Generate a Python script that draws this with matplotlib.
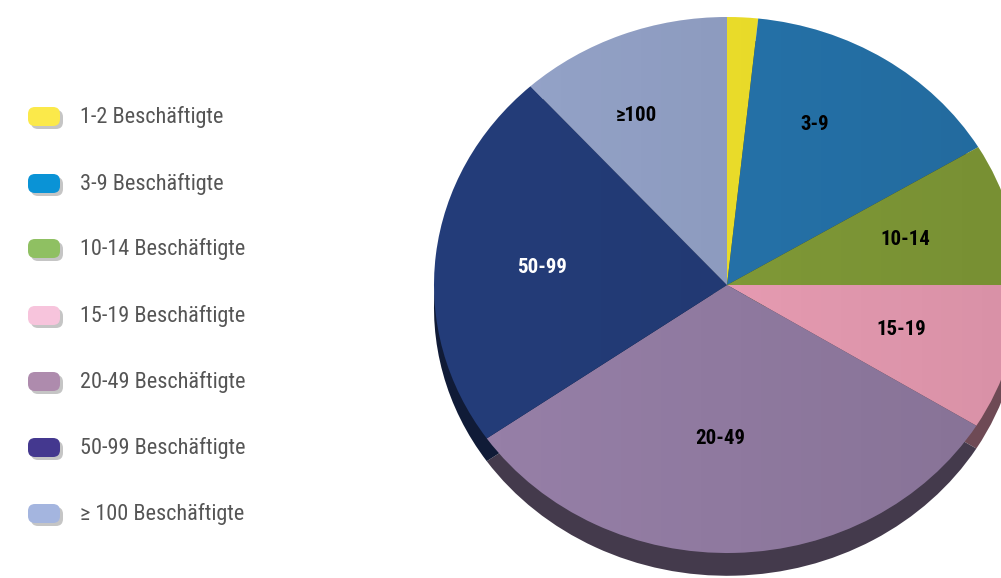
import matplotlib.pyplot as plt
import numpy as np
import matplotlib.colors as mcolors
from matplotlib import font_manager
from matplotlib.patches import FancyBboxPatch

# shares of firms by number of employees (percent)
categories = ['1-2', '3-9', '10-14', '15-19', '20-49', '50-99', '≥100']
legend_labels = ['1-2 Beschäftigte', '3-9 Beschäftigte', '10-14 Beschäftigte',
                 '15-19 Beschäftigte', '20-49 Beschäftigte', '50-99 Beschäftigte',
                 '≥ 100 Beschäftigte']
shares = [1.7, 14.7, 8.6, 8.8, 31.5, 23.0, 11.7]

pie_colors = ['#f8e92c', '#2778b2', '#87a23a', '#f4a4bc', '#9881a9', '#243d7a', '#96a5cb']
legend_colors = ['#fbe94a', '#0a93d6', '#8fc062', '#f7c4dc', '#ae8bad', '#44388f', '#a4b5df']
label_colors = ['black', 'black', 'black', 'black', 'black', 'white', 'black']

# pick a condensed face if one is there
available = {f.name for f in font_manager.fontManager.ttflist}
fams = [f for f in ['Roboto Condensed', 'Liberation Sans Narrow', 'Archivo Narrow',
                    'PT Sans Narrow', 'Roboto'] if f in available]
fams = fams[:1] + ['DejaVu Sans']

W, H = 1001, 578
fig = plt.figure(figsize=(W / 100, H / 100), dpi=100)
fig.patch.set_facecolor('white')

# pie geometry in pixels
cx, cy = 727, 285
rx, ry = 293, 268
lim = 1.1
ax = fig.add_axes([(cx - lim * rx) / W, (H - cy - lim * ry) / H,
                   2 * lim * rx / W, 2 * lim * ry / H])


def darker(c, f):
    r, g, b = mcolors.to_rgb(c)
    return (r * f, g * f, b * f)


# side of the disc: same pie shifted down, darkened
side_cols = [darker(c, 0.45) for c in pie_colors]
ax.pie(shares, colors=side_cols, startangle=90, counterclock=False,
       center=(0, -0.085), radius=1.0, wedgeprops=dict(linewidth=0, zorder=1))
wedges, _ = ax.pie(shares, colors=pie_colors, startangle=90, counterclock=False,
                   radius=1.0, wedgeprops=dict(linewidth=0, zorder=2))

# light-to-dark shading across the face
shade = np.zeros((1, 256, 4))
shade[..., 3] = np.linspace(0, 0.12, 256)
for w in wedges:
    im = ax.imshow(shade, extent=(-1.05, 1.05, -1.1, 1.1), aspect='auto', zorder=3)
    im.set_clip_path(w)

ax.set_aspect('auto')
ax.set_xlim(-lim, lim)
ax.set_ylim(-lim, lim)
ax.axis('off')

# slice labels (pixel positions converted to pie units)
label_px = [None, (815, 125), (905, 240), (901, 330), (720, 438), (542, 268), (636, 116)]
for cat, pos, col in zip(categories, label_px, label_colors):
    if pos is None:
        continue
    x = (pos[0] - cx) / rx
    y = (cy - pos[1]) / ry
    ax.text(x, y, cat, ha='center', va='center', fontsize=15, fontweight='bold',
            color=col, family=fams, zorder=5)

# legend on the left, drawn in pixel coordinates
lax = fig.add_axes([0, 0, 1, 1])
lax.set_xlim(0, W)
lax.set_ylim(H, 0)
lax.axis('off')
row_y = [118, 185, 250, 317, 383, 449, 515]
for y, col, txt in zip(row_y, legend_colors, legend_labels):
    shadow = FancyBboxPatch((31, y - 8), 32, 19, boxstyle='round,pad=0,rounding_size=7',
                            facecolor='#808080', edgecolor='none', alpha=0.45)
    lax.add_patch(shadow)
    box = FancyBboxPatch((28, y - 11), 32, 19, boxstyle='round,pad=0,rounding_size=7',
                         facecolor=col, edgecolor='none')
    lax.add_patch(box)
    lax.text(80, y - 1, txt, ha='left', va='center', fontsize=16, color='#555555',
             family=fams)

fig.savefig('out.png', dpi=100)
